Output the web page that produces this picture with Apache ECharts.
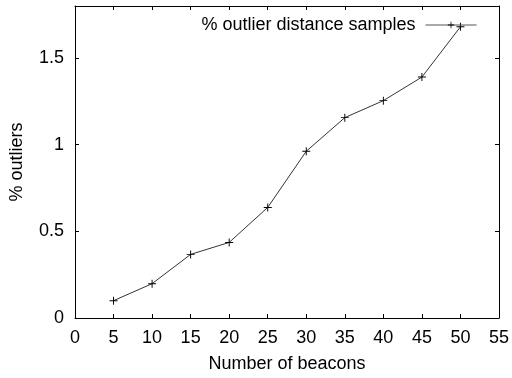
<!DOCTYPE html>
<html><head><meta charset="utf-8">
<script src="https://cdn.jsdelivr.net/npm/echarts@6/dist/echarts.min.js"></script>
<style>html,body{margin:0;padding:0;background:#fff}#c{width:512px;height:378px}</style>
</head><body><div id="c"></div>
<script>
const beacons = [5, 10, 15, 20, 25, 30, 35, 40, 45, 50];
const outliers = [0.10, 0.198, 0.367, 0.436, 0.638, 0.962, 1.156, 1.254, 1.39, 1.68];
const seriesName = '% outlier distance samples';
const xTitle = 'Number of beacons';
const yTitle = '% outliers';

const plus = 'path://M4.4,0H5.6V4.4H10V5.6H5.6V10H4.4V5.6H0V4.4H4.4Z';
const font = 'Liberation Sans, Arial, Helvetica, sans-serif';
const FS = 18;
const axisCommon = {
  axisLine: {onZero: false, lineStyle: {color: '#000', width: 1}},
  axisTick: {inside: true, length: 4, lineStyle: {color: '#000'}},
  splitLine: {show: false}
};
const chart = echarts.init(document.getElementById('c'));
chart.setOption({
  animation: false,
  grid: {left: 73, right: 12, top: 6, bottom: 59},
  legend: {
    right: 30, top: 11, align: 'right', itemWidth: 51, itemHeight: 8, itemGap: 10,
    textStyle: {fontFamily: font, fontSize: FS, color: '#000'},
    formatter: n => n + ' ',
    lineStyle: {width: 1, color: '#555'},
    data: [seriesName]
  },
  xAxis: [
    Object.assign({type: 'value', min: 0, max: 55, interval: 5, position: 'bottom',
      name: xTitle, nameLocation: 'middle', nameGap: 37,
      nameTextStyle: {fontFamily: font, fontSize: FS, color: '#000'},
      axisLabel: {fontFamily: font, fontSize: FS, color: '#000', margin: 11}}, axisCommon),
    Object.assign({type: 'value', min: 0, max: 55, interval: 5, position: 'top',
      axisLabel: {show: false}}, axisCommon)
  ],
  yAxis: [
    Object.assign({type: 'value', min: 0, max: 1.8, interval: 0.5, position: 'left',
      name: yTitle, nameLocation: 'middle', nameGap: 49, nameRotate: 90,
      nameTextStyle: {fontFamily: font, fontSize: FS, color: '#000'},
      axisLabel: {fontFamily: font, fontSize: FS, color: '#000', margin: 11,
        formatter: v => (v > 1.75 ? '' : String(v))}}, axisCommon),
    Object.assign({type: 'value', min: 0, max: 1.8, interval: 0.5, position: 'right',
      axisLabel: {show: false}}, axisCommon)
  ],
  series: [{
    name: seriesName, type: 'line',
    data: beacons.map((b, i) => [b, outliers[i]]),
    symbol: plus, symbolSize: 8, showSymbol: true,
    lineStyle: {color: '#333', width: 1},
    itemStyle: {color: '#000'}
  }]
});
</script></body></html>
